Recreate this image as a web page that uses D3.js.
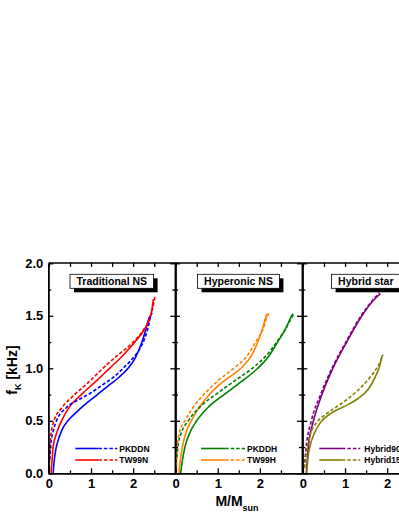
<!DOCTYPE html>
<html>
<head>
<meta charset="utf-8">
<script src="https://cdn.jsdelivr.net/npm/d3@7"></script>
<style>
  html, body { margin: 0; padding: 0; background: #fff; overflow: hidden; }
  svg { display: block; font-family: "Liberation Sans", Arial, sans-serif; }
</style>
</head>
<body>
<div id="chart"></div>
<script>
// panel titles and x/y ticks
const panelTitles = ['Traditional NS', 'Hyperonic NS', 'Hybrid star'];
const xMajorTicks = [0, 1, 2];
const xMinorTicks = [0.5, 1.5, 2.5];
const yMajorTicks = [0, 0.5, 1.0, 1.5, 2.0];
const yMinorTicks = [0.25, 0.75, 1.25, 1.75];

// series names and colours, per panel
const seriesNames = [['PKDDN', 'TW99N'], ['PKDDH', 'TW99H'], ['Hybrid90', 'Hybrid150']];
const seriesColors = [['#0000ff', '#ff0000'], ['#008000', '#ff8000'], ['#800080', '#808000']];

// [M/Msun, fK kHz]
const pkddnSolid = [[0.1,0],[0.12,0.1],[0.16,0.22],[0.24,0.34],[0.33,0.43],[0.45,0.5],[0.7,0.6],[0.9,0.67],[1.15,0.75],[1.4,0.83],[1.65,0.91],[1.88,1.0],[2.05,1.1],[2.2,1.24],[2.3,1.37],[2.36,1.46],[2.4,1.5]];
const pkddnDash  = [[0.02,0.13],[0.04,0.25],[0.1,0.4],[0.18,0.5],[0.4,0.62],[0.7,0.7],[0.97,0.76],[1.3,0.85],[1.55,0.92],[1.76,1.0],[2.0,1.1],[2.15,1.18],[2.25,1.26],[2.35,1.38],[2.42,1.5],[2.45,1.53]];
const tw99nSolid = [[0.05,0],[0.07,0.1],[0.1,0.25],[0.18,0.38],[0.3,0.5],[0.5,0.64],[0.77,0.75],[1.1,0.87],[1.44,1.0],[1.75,1.12],[2.04,1.25],[2.25,1.36],[2.38,1.46],[2.44,1.55],[2.48,1.66]];
const tw99nDash  = [[0.01,0.04],[0.02,0.25],[0.06,0.4],[0.12,0.5],[0.3,0.62],[0.61,0.75],[0.95,0.87],[1.28,1.0],[1.65,1.13],[2.0,1.25],[2.25,1.37],[2.42,1.5],[2.48,1.6],[2.52,1.69]];
const pkddhSolid = [[0.12,0],[0.16,0.12],[0.22,0.25],[0.33,0.38],[0.5,0.5],[0.8,0.64],[1.15,0.75],[1.55,0.87],[1.95,1.0],[2.22,1.12],[2.42,1.25],[2.6,1.37],[2.73,1.48],[2.78,1.52]];
const pkddhDash  = [[0.03,0.15],[0.06,0.27],[0.15,0.4],[0.3,0.5],[0.6,0.64],[0.95,0.75],[1.4,0.88],[1.82,1.0],[2.15,1.12],[2.4,1.25],[2.62,1.38],[2.78,1.5],[2.82,1.52]];
const tw99hSolid = [[0.08,0],[0.11,0.12],[0.16,0.25],[0.24,0.38],[0.37,0.5],[0.55,0.62],[0.8,0.75],[1.15,0.88],[1.55,1.0],[1.8,1.12],[1.95,1.25],[2.08,1.4],[2.15,1.5],[2.18,1.52]];
const tw99hDash  = [[0.02,0.02],[0.04,0.25],[0.1,0.4],[0.22,0.5],[0.4,0.62],[0.67,0.75],[1.0,0.88],[1.38,1.0],[1.7,1.12],[1.9,1.25],[2.08,1.38],[2.18,1.5],[2.23,1.53]];
const hyb90Solid = [[0.08,0],[0.13,0.26],[0.25,0.5],[0.45,0.75],[0.71,1.0],[1.04,1.25],[1.4,1.5],[1.68,1.65],[1.84,1.71]];
const hyb90Dash  = [[0.03,0.05],[0.08,0.26],[0.2,0.5],[0.42,0.75],[0.69,1.0],[1.02,1.25],[1.38,1.5],[1.66,1.65],[1.82,1.72]];
const hyb150Solid = [[0.09,0],[0.12,0.15],[0.17,0.26],[0.27,0.38],[0.41,0.48],[0.7,0.58],[1.0,0.64],[1.3,0.71],[1.55,0.8],[1.72,0.92],[1.82,1.02],[1.88,1.12]];
const hyb150Dash  = [[0.04,0.05],[0.08,0.2],[0.13,0.3],[0.2,0.4],[0.3,0.47],[0.57,0.57],[0.9,0.66],[1.25,0.77],[1.52,0.88],[1.7,0.97],[1.82,1.05],[1.9,1.13]];

const solidData = [[pkddnSolid, tw99nSolid], [pkddhSolid, tw99hSolid], [hyb90Solid, hyb150Solid]];
const dashData  = [[pkddnDash, tw99nDash], [pkddhDash, tw99hDash], [hyb90Dash, hyb150Dash]];

const W = 399, H = 516;
const panelLeft = [48.3, 175, 302.3];
const panelW = 127;
const plotTop = 262.5, plotBottom = 473.3;
const legendOffset = [[27, 69, 71], [26, 70, 72], [17, 58, 62]];

const svg = d3.select('#chart').append('svg')
  .attr('width', W).attr('height', H);

const y = d3.scaleLinear().domain([0, 2]).range([plotBottom, plotTop + 0.8]);

function styleAxis(g, labels) {
  g.select('.domain').attr('stroke', '#000').attr('stroke-width', 1.5);
  g.selectAll('.tick line').attr('stroke', '#000').attr('stroke-width', 1.3);
  g.selectAll('text').attr('fill', '#000').attr('font-size', 13)
    .attr('font-weight', 'bold');
  if (!labels) g.selectAll('text').remove();
}

panelTitles.forEach((title, i) => {
  const x0 = panelLeft[i];
  const x = d3.scaleLinear().domain([-0.015, 3.0]).range([x0, x0 + panelW]);

  // curves
  const line = d3.line().x(d => x(d[0])).y(d => y(d[1])).curve(d3.curveMonotoneX);
  const g = svg.append('g');
  solidData[i].forEach((s, j) => {
    g.append('path').datum(s).attr('d', line).attr('fill', 'none')
      .attr('stroke', seriesColors[i][j]).attr('stroke-width', 1.6);
  });
  dashData[i].forEach((s, j) => {
    g.append('path').datum(s).attr('d', line).attr('fill', 'none')
      .attr('stroke', seriesColors[i][j]).attr('stroke-width', 1.6)
      .attr('stroke-dasharray', '3.5,2');
  });

  // axes, ticks pointing inwards
  svg.append('g').attr('transform', `translate(0,${plotBottom})`)
    .call(d3.axisBottom(x).tickValues(xMajorTicks).tickSize(-5).tickSizeOuter(0).tickPadding(5).tickFormat(d3.format('d')))
    .call(g => styleAxis(g, true));
  svg.append('g').attr('transform', `translate(0,${plotBottom})`)
    .call(d3.axisBottom(x).tickValues(xMinorTicks).tickSize(-3).tickSizeOuter(0))
    .call(g => styleAxis(g, false));
  svg.append('g').attr('transform', `translate(0,${plotTop})`)
    .call(d3.axisTop(x).tickValues(xMajorTicks.concat(xMinorTicks)).tickSize(-4.5).tickSizeOuter(0))
    .call(g => styleAxis(g, false));
  svg.append('g').attr('transform', `translate(${x0},0)`)
    .call(d3.axisLeft(y).tickValues(yMajorTicks).tickSize(-5).tickSizeOuter(0).tickPadding(5).tickFormat(d3.format('.1f')))
    .call(g => styleAxis(g, i === 0));
  svg.append('g').attr('transform', `translate(${x0},0)`)
    .call(d3.axisLeft(y).tickValues(yMinorTicks).tickSize(-3).tickSizeOuter(0))
    .call(g => styleAxis(g, false));
  svg.append('g').attr('transform', `translate(${x0 + panelW},0)`)
    .call(d3.axisRight(y).tickValues(yMajorTicks).tickSize(-5).tickSizeOuter(0))
    .call(g => styleAxis(g, false));
  svg.append('g').attr('transform', `translate(${x0 + panelW},0)`)
    .call(d3.axisRight(y).tickValues(yMinorTicks).tickSize(-3).tickSizeOuter(0))
    .call(g => styleAxis(g, false));

  // title box with shadow
  const cx = x0 + 63.5;
  const boxG = svg.append('g');
  const shadow = boxG.append('rect').attr('fill', '#000');
  const box = boxG.append('rect').attr('fill', '#fff').attr('stroke', '#000').attr('stroke-width', 0.8);
  const t = boxG.append('text').attr('x', cx).attr('y', 285.2)
    .attr('text-anchor', 'middle').attr('font-size', 10.5).attr('font-weight', 'bold')
    .text(title);
  const tw = t.node().getComputedTextLength();
  const bw = tw + 13;
  box.attr('x', cx - bw / 2).attr('y', 274.3).attr('width', bw).attr('height', 14);
  shadow.attr('x', cx - bw / 2 + 4).attr('y', 278.3).attr('width', bw).attr('height', 14);

  // legend
  const [l0, l1, lt] = legendOffset[i];
  [448.5, 460].forEach((ly, j) => {
    const mid = x0 + l0 + (l1 - l0) * 0.55;
    svg.append('line').attr('x1', x0 + l0).attr('x2', mid).attr('y1', ly).attr('y2', ly)
      .attr('stroke', seriesColors[i][j]).attr('stroke-width', 1.6);
    svg.append('line').attr('x1', mid).attr('x2', x0 + l1).attr('y1', ly).attr('y2', ly)
      .attr('stroke', seriesColors[i][j]).attr('stroke-width', 1.6).attr('stroke-dasharray', '3.5,2');
    svg.append('text').attr('x', x0 + lt).attr('y', ly + 3)
      .attr('font-size', 8.5).attr('font-weight', 'bold').text(seriesNames[i][j]);
  });
});

// axis titles
const xt = svg.append('text').attr('x', 237).attr('y', 506).attr('text-anchor', 'middle')
  .attr('font-size', 14).attr('font-weight', 'bold');
xt.append('tspan').text('M/M');
xt.append('tspan').attr('font-size', 9).attr('dy', 5).text('sun');

const yt = svg.append('text').attr('transform', 'translate(17,370) rotate(-90)')
  .attr('text-anchor', 'middle').attr('font-size', 14).attr('font-weight', 'bold');
yt.append('tspan').text('f');
yt.append('tspan').attr('font-size', 9).attr('dy', 4).text('K');
yt.append('tspan').attr('dy', -4).text(' [kHz]');
</script>
</body>
</html>
